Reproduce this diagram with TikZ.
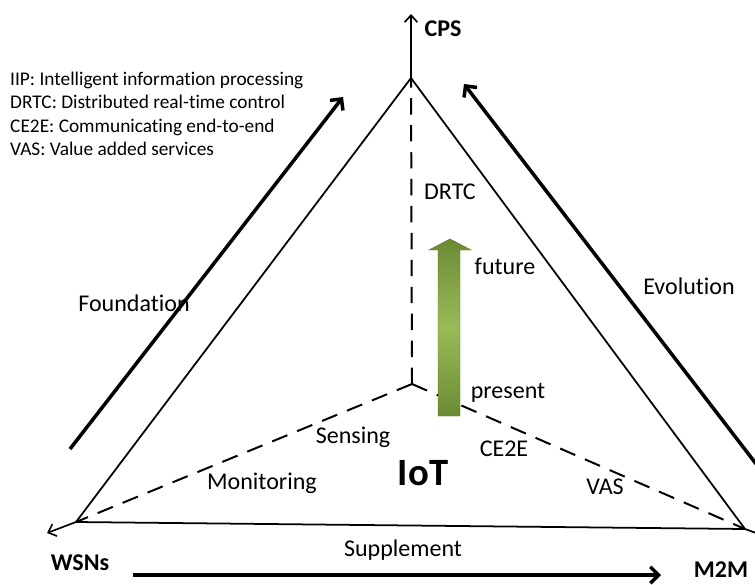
\documentclass[tikz,border=0pt]{standalone}
\usepackage{fontspec}
\setmainfont{Carlito}[RawFeature={-liga;-clig;-calt;-dlig}]
\usetikzlibrary{arrows.meta, positioning}
\definecolor{IoTBlack}{HTML}{000000}
\definecolor{IoTOlive}{HTML}{9BBB59}
\definecolor{IoTOliveDark}{HTML}{6A8A32}
\definecolor{IoTOliveEdge}{HTML}{5A7229}
\tikzset{
    % Triangle sides
    side/.style={
        line width=1.5pt,
        draw=IoTBlack
    },
    dashside/.style={
        line width=1.7pt,
        draw=IoTBlack,
        dash pattern=on 14pt off 9pt
    },
    % Arrow styles
    thinarrow/.style={
        -{Straight Barb[length=6pt,width=11pt]},
        line width=1.4pt,
        draw=IoTBlack
    },
    thickarrow/.style={
        -{Straight Barb[length=7pt,width=14pt]},
        line width=3pt,
        draw=IoTBlack
    },
    % Text styles
    txt/.style={
        inner sep=0pt,
        font=\fontsize{20.5}{24}\selectfont
    },
    boldtxt/.style={
        inner sep=0pt,
        font=\fontsize{20.5}{24}\selectfont\bfseries
    },
    legendtxt/.style={
        inner sep=0pt,
        anchor=west,
        align=left,
        font=\fontsize{16.5}{20}\selectfont
    }
}
\begin{document}
\begin{tikzpicture}[x=0.03cm, y=-0.03cm]
    \useasboundingbox (0,0) rectangle (755,584);
    \clip (0,0) rectangle (755,584);

    % Corners of the triangle
    \coordinate (T) at (411,78);
    \coordinate (L) at (76,522);
    \coordinate (R) at (745,529);
    \coordinate (C) at (412,384);

    % Free ends of the arrows
    \coordinate (cpsend) at (411,14);
    \coordinate (wsnend) at (47,533);
    \coordinate (m2mend) at (770,538);
    \coordinate (foundstart) at (70,449);
    \coordinate (foundend) at (343,97);
    \coordinate (evostart) at (790,508);
    \coordinate (evoend) at (464,84);
    \coordinate (supstart) at (133,575);
    \coordinate (supend) at (661,575);

    % Triangle
    \draw[side] (L) -- (T) -- (R) -- cycle;
    \draw[side] (R) -- (m2mend);
    \draw[dashside] (C) -- (T);
    \draw[dashside] (C) -- (L);
    \draw[dashside] (C) -- (R);

    % Axis arrows
    \draw[thinarrow] (T) -- (cpsend);
    \draw[thinarrow] (L) -- (wsnend);

    % Side arrows
    \draw[thickarrow] (foundstart) -- (foundend);
    \draw[thickarrow] (evostart) -- (evoend);
    \draw[thickarrow] (supstart) -- (supend);

    % Present to future arrow
    \shadedraw[top color=IoTOliveDark, bottom color=IoTOliveDark, middle color=IoTOlive,
        draw=IoTOliveEdge, line width=0.4pt]
        (438,416) -- (438,250) -- (429,250) -- (450,239) -- (471,250)
        -- (460,250) -- (460,416) -- cycle;

    % Corner labels
    \node[boldtxt] (cps) at (443,29) {CPS};
    \node[boldtxt] (wsns) at (80,563) {WSNs};
    \node[boldtxt] (m2m) at (721,570) {M2M};
    \node[inner sep=0pt, font=\fontsize{33}{38}\selectfont\bfseries] (iot) at (423,473) {IoT};

    % Inner labels
    \node[txt] (drtc) at (450,192) {DRTC};
    \node[txt] (future) at (505,266) {future};
    \node[txt] (present) at (508,393) {present};
    \node[txt] (sensing) at (353,437) {Sensing};
    \node[txt] (ce2e) at (504,449) {CE2E};
    \node[txt] (monitoring) at (262,483) {Monitoring};
    \node[txt] (vas) at (605,487) {VAS};

    % Side labels
    \node[txt] (foundation) at (134,303) {Foundation};
    \node[txt] (evolution) at (689,286) {Evolution};
    \node[txt] (supplement) at (403,550) {Supplement};

    % Legend
    \node[legendtxt] (legend) at (10,114) {
        IIP: Intelligent information processing\\
        DRTC: Distributed real-time control\\
        CE2E: Communicating end-to-end\\
        VAS: Value added services
    };
\end{tikzpicture}
\end{document}
